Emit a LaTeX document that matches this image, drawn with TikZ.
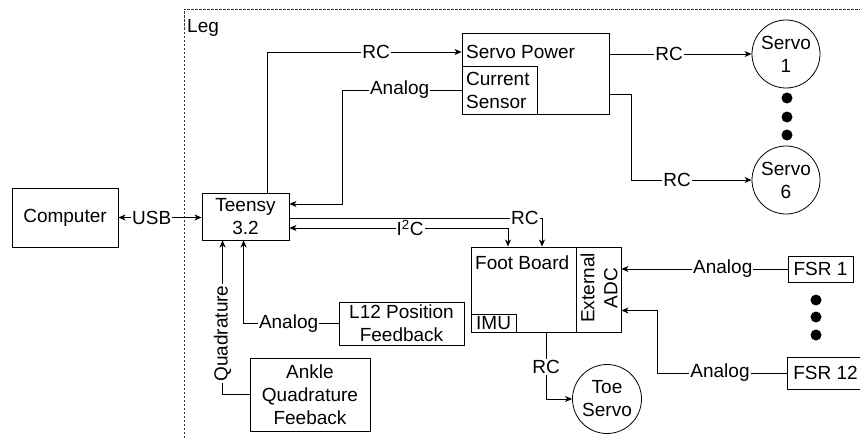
\documentclass[tikz,border=0pt]{standalone}
\usepackage{fontspec}
\setmainfont{Liberation Sans}
\usetikzlibrary{arrows.meta,calc}
\begin{document}
\begin{tikzpicture}[x=1pt,y=-1pt,
  every node/.style={font=\fontsize{19}{23}\selectfont},
  box/.style={draw, line width=0.9pt, inner sep=0pt, align=center},
  circ/.style={draw, circle, line width=0.8pt, inner sep=0pt, align=center, minimum size=68pt},
  txt/.style={inner sep=0pt, anchor=west, align=left},
  lbl/.style={fill=white, inner sep=1pt},
  conn/.style={line width=0.9pt},
  dotmark/.style={circle, fill=black, inner sep=0pt, minimum size=11pt},
  legline/.style={line width=0.7pt, dash pattern=on 2.5pt off 1.5pt, black!80},
  >={Stealth[length=7pt,width=6pt,inset=2pt]}
]
\useasboundingbox (0,0) rectangle (860,439);
\clip (0,0) rectangle (860,439);

% Leg container (dashed)
\draw[legline] (184,450) -- (184,9) -- (870,9);
\node[txt] (leg) at (187,28) {Leg};

% boxes
\node[box, minimum width=106pt, minimum height=59pt] (comp) at (65,217.5) {Computer};
\node[box, minimum width=87pt, minimum height=47pt] (teensy) at (245.5,216.5) {Teensy\\3.2};

\node[box, minimum width=147pt, minimum height=81pt] (sp) at (535.5,73.5) {};
\node[txt] (sptext) at (466,52) {Servo Power};
\node[box, minimum width=75pt, minimum height=48pt] (cs) at (499.5,90) {};
\node[txt] (cstext) at (466,90) {Current\\Sensor};

\node[circ] (s1) at (786,54) {Servo\\1};
\node[circ] (s6) at (786,180) {Servo\\6};
\node[dotmark] (d1) at (787,98) {};
\node[dotmark] (d2) at (787,117) {};
\node[dotmark] (d3) at (787,135) {};

\node[box, minimum width=150pt, minimum height=85pt] (fb) at (546,289.5) {};
\node[txt] (fbtext) at (475,263) {Foot Board};
\node[box, minimum width=45pt, minimum height=85pt] (adc) at (598.5,289.5) {};
\node[inner sep=0pt, rotate=90, align=center] (adctext) at (599,288) {External\\ADC};
\node[box, minimum width=45pt, minimum height=18pt] (imu) at (493.5,323) {};
\node[txt] (imutext) at (476,323.5) {IMU};

\node[box, minimum width=65pt, minimum height=26pt] (fsr1) at (820.5,269) {FSR 1};
\node[box, minimum width=77pt, minimum height=32pt] (fsr12) at (825.5,373) {FSR 12};
\node[dotmark] (d4) at (816,300) {};
\node[dotmark] (d5) at (816,317) {};
\node[dotmark] (d6) at (816,335) {};

\node[box, minimum width=125pt, minimum height=43pt] (l12) at (401.5,323.5) {L12 Position\\Feedback};
\node[box, minimum width=120pt, minimum height=73pt] (ankle) at (310,394.5) {Ankle\\Quadrature\\Feeback};
\node[circ, minimum size=69pt] (toe) at (607,399) {Toe\\Servo};

% connectors
\draw[conn,<->] (comp.east) -- (comp.east -| teensy.west) node[lbl,pos=0.4] {USB};
\draw[conn,->] ($(teensy.north west)+(66,0)$) |- ($(sp.west)+(0,-21.5)$) node[lbl,pos=0.78] {RC};
\draw[conn,->] (cs.west) -- node[lbl,pos=0.52] {Analog} ($(cs.west -| teensy.east)+(53,0)$) |- ($(teensy.east)+(0,-12.5)$);
\draw[conn,->] (sp.east |- s1.west) -- (s1.west) node[lbl,pos=0.42] {RC};
\draw[conn,->] ($(sp.east)+(0,20.5)$) -| ($(s6.west)+(-120,0)$) -- node[lbl,pos=0.38] {RC} (s6.west);
\draw[conn,->] ($(teensy.east)+(0,1.5)$) -| ($(fb.north)+(-4,0)$) node[lbl,pos=0.466] {RC};
\draw[conn,<->] ($(teensy.east)+(0,11.5)$) -| ($(fb.north)+(-38,0)$) node[lbl,pos=0.276] {I\textsuperscript{2}C};
\draw[conn,->] (fb.south) |- (toe.west) node[lbl,pos=0.26] {RC};
\draw[conn,->] (fsr1.west) -- (fsr1.west -| adc.east) node[lbl,pos=0.39] {Analog};
\draw[conn,->] (fsr12.west) -| ($(adc.east)+(36,21)$) -- ($(adc.east)+(0,21)$);
\node[lbl] (an12) at (720,373) {Analog};
\draw[conn,->] (l12.west) -| ($(teensy.south west)+(42,0)$) node[lbl,pos=0.263] {Analog};
\draw[conn,->] (ankle.west) -| ($(teensy.south west)+(21,0)$) node[lbl,pos=0.698,rotate=90] {Quadrature};
\end{tikzpicture}
\end{document}
